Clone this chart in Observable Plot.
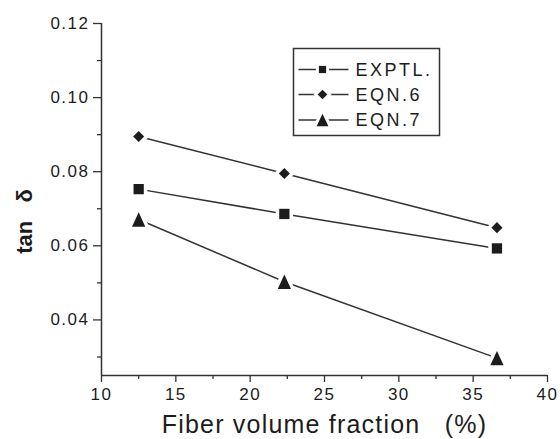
<!DOCTYPE html>
<html>
<head>
<meta charset="utf-8">
<script src="https://cdn.jsdelivr.net/npm/d3@7"></script>
<script src="https://cdn.jsdelivr.net/npm/@observablehq/plot@0.6"></script>
<style>
  html, body { margin: 0; padding: 0; background: #fff; }
  #chart { width: 560px; height: 439px; }
  #chart svg { font-family: "Liberation Sans", Arial, sans-serif; }
</style>
</head>
<body>
<div id="chart"></div>
<script>
// Loss tangent vs. fiber volume fraction: experiment and two model equations
const fraction = [12.5, 22.3, 36.6];
const exptl = [0.0753, 0.0686, 0.0593];
const eqn6 = [0.0895, 0.0795, 0.0649];
const eqn7 = [0.0671, 0.0503, 0.0297];
const seriesNames = ["EXPTL.", "EQN.6", "EQN.7"];

const xTicks = [10, 15, 20, 25, 30, 35, 40];
const xMinorTicks = [12.5, 17.5, 22.5, 27.5, 32.5, 37.5];
const yTicks = [0.04, 0.06, 0.08, 0.10, 0.12];
const yMinorTicks = [0.03, 0.05, 0.07, 0.09, 0.11];

const xLabel = "Fiber volume fraction\u00a0\u00a0\u00a0(%)";
const yLabel = "tan\u00a0\u00a0\u00a0δ";

// upright triangle centred on its bounding box
const triangle = {
  draw(ctx, size) {
    const r = Math.sqrt(size / Math.PI);
    const h = 1.35 * r, w = 1.25 * r;
    ctx.moveTo(0, -h); ctx.lineTo(w, h); ctx.lineTo(-w, h); ctx.closePath();
  }
};

const seriesValues = [exptl, eqn6, eqn7];
const symbols = ["square", "diamond2", triangle];
const radii = [5.8, 5.0, 5.3];

const rows = seriesNames.flatMap((name, s) =>
  fraction.map((x, i) => ({series: name, x, y: seriesValues[s][i]})));

const ink = "#1c1c1c";
const lineInk = "#333";

const dotMarks = seriesNames.flatMap((name, s) => {
  const d = rows.filter(r => r.series === name);
  return [
    Plot.dot(d, {x: "x", y: "y", symbol: symbols[s], r: radii[s], fill: "white", stroke: "white", strokeWidth: 7}),
    Plot.dot(d, {x: "x", y: "y", symbol: symbols[s], r: radii[s], fill: ink, stroke: "none"})
  ];
});

const chart = Plot.plot({
  width: 560,
  height: 439,
  marginTop: 23,
  marginRight: 13,
  marginBottom: 64,
  marginLeft: 101,
  style: {color: ink, background: "white", overflow: "visible"},
  x: {domain: [10, 40]},
  y: {domain: [0.025, 0.12]},
  marks: [
    Plot.line(rows, {x: "x", y: "y", z: "series", stroke: lineInk, strokeWidth: 1.5}),
    ...dotMarks,
    Plot.ruleX([10], {stroke: lineInk, strokeWidth: 1.5}),
    Plot.ruleY([0.025], {stroke: lineInk, strokeWidth: 1.5}),
    Plot.axisY({ticks: yTicks, tickFormat: d3.format(".2f"), tickSize: 8, tickPadding: 4, fontSize: 17, label: null, stroke: lineInk, strokeWidth: 1.3}),
    Plot.axisY({ticks: yMinorTicks, tickFormat: () => "", tickSize: 4, label: null, stroke: lineInk, strokeWidth: 1.3}),
    Plot.axisX({ticks: xTicks, tickFormat: d3.format("d"), tickSize: 7, tickPadding: 5, fontSize: 17, label: null, stroke: lineInk, strokeWidth: 1.3}),
    Plot.axisX({ticks: xMinorTicks, tickFormat: () => "", tickSize: 4, label: null, stroke: lineInk, strokeWidth: 1.3}),
    Plot.text([xLabel], {text: d => d, frameAnchor: "bottom", dy: 49, fontSize: 25, textAnchor: "middle", lineAnchor: "middle", fill: ink}),
    Plot.text([yLabel], {text: d => d, frameAnchor: "left", dx: -77, dy: 22, rotate: -90, fontSize: 22, fontWeight: "bold", textAnchor: "middle", lineAnchor: "middle", fill: ink})
  ]
});

document.getElementById("chart").append(chart);

const svg = d3.select(chart);
// wider letter spacing on the tick labels and the x title
svg.selectAll("text").each(function () {
  const t = this.textContent;
  if (/^[0-9.]+$/.test(t)) d3.select(this).style("letter-spacing", "1.5px");
  if (t.startsWith("Fiber")) d3.select(this).style("letter-spacing", "1.2px");
});

// boxed legend in the upper right of the plot area
const legend = svg.append("g").attr("transform", "translate(293.5,48.5)");
legend.append("rect")
  .attr("width", 146).attr("height", 87)
  .attr("fill", "white").attr("stroke", lineInk).attr("stroke-width", 1.5);
const rowY = [21, 46, 71.5];
const legendSizes = [52, 60, 70];
seriesNames.forEach((name, s) => {
  const g = legend.append("g").attr("transform", `translate(0,${rowY[s]})`);
  g.append("line").attr("x1", 5).attr("x2", 55).attr("y1", 0).attr("y2", 0)
    .attr("stroke", lineInk).attr("stroke-width", 1.5);
  const sym = typeof symbols[s] === "string"
    ? (symbols[s] === "square" ? d3.symbolSquare : d3.symbolDiamond2)
    : symbols[s];
  const path = d3.symbol(sym, legendSizes[s])();
  g.append("path").attr("transform", "translate(29,0)").attr("d", path)
    .attr("fill", "white").attr("stroke", "white").attr("stroke-width", 6);
  g.append("path").attr("transform", "translate(29,0)").attr("d", path).attr("fill", ink);
  g.append("text").attr("x", 62).attr("dy", "0.35em")
    .attr("text-anchor", "start")
    .attr("font-size", 18).attr("fill", ink)
    .style("letter-spacing", "2.5px").text(name);
});
</script>
</body>
</html>
